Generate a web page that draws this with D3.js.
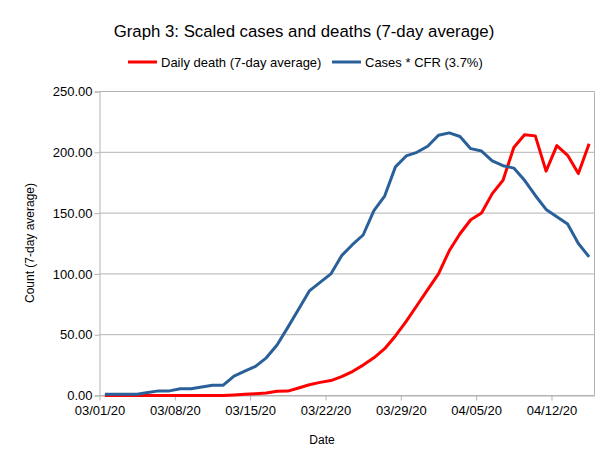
<!DOCTYPE html>
<html>
<head>
<meta charset="utf-8">
<title>Graph 3</title>
<style>
  body { margin: 0; background: #fff; }
  svg { font-family: "Liberation Sans", Arial, sans-serif; }
</style>
</head>
<body>
<svg width="606" height="466"></svg>
<script src="https://d3js.org/d3.v7.min.js"></script>
<script>
// one point per day, starting 03/01/20
const startDate = "2020-03-01";
const deaths = [0, 0, 0, 0, 0, 0, 0, 0, 0, 0, 0, 0, 0.5, 1, 1.5, 2,
  3.5, 3.6, 6.2, 8.8, 10.8, 12.3, 15.5, 19.7, 25, 31, 38.5, 49, 61, 74,
  87, 100, 119, 133, 144.5, 150, 166, 177, 204, 214.5, 213.5, 184.5, 205.5, 197.5, 182.5, 207];
const casesCfr = [1.1, 1.1, 1.1, 1.1, 2.5, 3.8, 3.8, 5.5, 5.5, 7, 8.5, 8.5, 16, 20, 24, 31,
  41.5, 56, 71, 86, 93, 100, 115, 124, 132, 152, 164, 188, 197, 200,
  205, 214, 216, 213, 203, 201, 193, 189, 187, 177, 164.5, 153, 147, 141, 125, 114];
const yTicks = [0, 50, 100, 150, 200, 250];
const seriesNames = ["Daily death (7-day average)", "Cases * CFR (3.7%)"];
const seriesColors = ["#ff0000", "#2a6099"];

const svg = d3.select("svg");
const margin = {left: 99.5, right: 11.5, top: 91.5, bottom: 70.5};
const W = 606, H = 466;

const day0 = d3.timeParse("%Y-%m-%d")(startDate);
const dates = deaths.map((d, i) => d3.timeDay.offset(day0, i));
const x = d3.scaleTime()
    .domain([day0, d3.timeDay.offset(day0, deaths.length)])
    .range([margin.left, W - margin.right]);
const y = d3.scaleLinear().domain([0, 250]).range([H - margin.bottom, margin.top]);

// points sit in the middle of each day slot
const xMid = d => x(d3.timeHour.offset(d, 12));

// gridlines
svg.append("g")
    .selectAll("line")
    .data(yTicks)
    .join("line")
    .attr("x1", margin.left).attr("x2", W - margin.right)
    .attr("y1", d => y(d)).attr("y2", d => y(d))
    .attr("stroke", "#b3b3b3").attr("stroke-width", 1);

// right border
svg.append("line")
    .attr("x1", W - margin.right).attr("x2", W - margin.right)
    .attr("y1", margin.top).attr("y2", H - margin.bottom)
    .attr("stroke", "#b3b3b3");

// y axis
const yAxis = svg.append("g")
    .attr("transform", `translate(${margin.left},0)`)
    .call(d3.axisLeft(y).tickValues(yTicks).tickFormat(d3.format(".2f")).tickSize(5).tickPadding(2));
yAxis.selectAll("path, line").attr("stroke", "#b3b3b3");
yAxis.selectAll("text").attr("font-size", 13).attr("fill", "#000")
    .attr("font-family", "Liberation Sans, Arial, sans-serif");

// x axis
const xTicks = d3.range(0, deaths.length, 7).map(i => d3.timeDay.offset(day0, i));
const xAxis = svg.append("g")
    .attr("transform", `translate(0,${H - margin.bottom})`)
    .call(d3.axisBottom(x).tickValues(xTicks).tickFormat(d3.timeFormat("%m/%d/%y")).tickSize(5).tickSizeOuter(0).tickPadding(5));
xAxis.selectAll("path, line").attr("stroke", "#b3b3b3");
xAxis.selectAll("text").attr("font-size", 13).attr("fill", "#000")
    .attr("font-family", "Liberation Sans, Arial, sans-serif");

// lines
const line = d3.line()
    .x((d, i) => xMid(dates[i]))
    .y(d => y(d));

[deaths, casesCfr].forEach((s, k) => {
  svg.append("path")
      .datum(s)
      .attr("fill", "none")
      .attr("stroke", seriesColors[k])
      .attr("stroke-width", 3)
      .attr("stroke-linejoin", "round")
      .attr("d", line);
});

// title
svg.append("text")
    .attr("x", 304).attr("y", 37)
    .attr("text-anchor", "middle")
    .attr("font-size", 16.8)
    .text("Graph 3: Scaled cases and deaths (7-day average)");

// legend
const legend = svg.append("g").attr("font-size", 13);
const legendX = [128, 332];
seriesNames.forEach((name, k) => {
  legend.append("line")
      .attr("x1", legendX[k]).attr("x2", legendX[k] + 29)
      .attr("y1", 62).attr("y2", 62)
      .attr("stroke", seriesColors[k]).attr("stroke-width", 3);
  legend.append("text")
      .attr("x", legendX[k] + 33).attr("y", 67)
      .text(name);
});

// axis titles
svg.append("text")
    .attr("x", 322).attr("y", 444)
    .attr("text-anchor", "middle")
    .attr("font-size", 12)
    .text("Date");
svg.append("text")
    .attr("transform", "translate(34,243) rotate(-90)")
    .attr("text-anchor", "middle")
    .attr("font-size", 12)
    .text("Count (7-day average)");
</script>
</body>
</html>
